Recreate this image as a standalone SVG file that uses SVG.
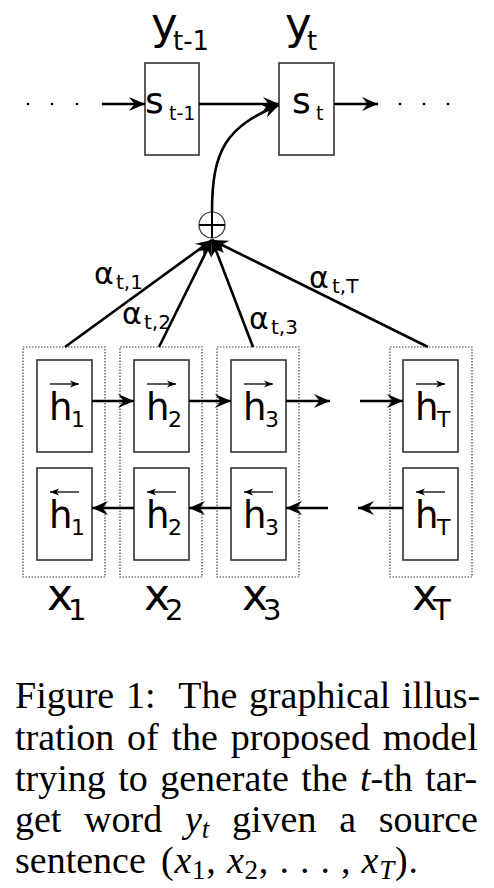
<svg xmlns="http://www.w3.org/2000/svg" width="494" height="888" viewBox="0 0 494 888">
<defs>
<style>
.bx{fill:#fff;stroke:#333;stroke-width:1.6}
.ob{fill:none;stroke:#444;stroke-width:1.2;stroke-dasharray:1.5 1.5}
.ar{fill:none;stroke:#000;stroke-width:2.6;marker-end:url(#ah)}
.sm{fill:none;stroke:#000;stroke-width:1.3;marker-end:url(#sa)}
.sf{font-family:"DejaVu Sans",Verdana,sans-serif;fill:#000}
.big{font-size:37px}
.sub{font-size:22px}
.cap{font-family:"Liberation Serif","Times New Roman",serif;font-size:38px;fill:#000}
.it{font-style:italic}
</style>
<marker id="ah" viewBox="-17 -8 18 16" refX="0" refY="0" markerWidth="18" markerHeight="16" markerUnits="userSpaceOnUse" orient="auto">
<path d="M0,0 L-16,-7 L-10.5,0 L-16,7 Z" fill="#000"/>
</marker>
<marker id="sa" viewBox="-10 -5 11 10" refX="0" refY="0" markerWidth="11" markerHeight="10" markerUnits="userSpaceOnUse" orient="auto">
<path d="M0,0 L-9,-3.5 L-6.5,0 L-9,3.5 Z" fill="#000"/>
</marker>
</defs>
<rect width="494" height="888" fill="#fff"/>

<g id="outputs" class="sf">
<text x="151" y="39" font-size="45">y<tspan x="173" y="50" font-size="26">t-1</tspan></text>
<text x="285" y="39" font-size="45">y<tspan x="307" y="50" font-size="26">t</tspan></text>
</g>

<g id="node-s-prev">
<rect class="bx" x="145" y="63" width="54" height="92"/>
<text class="sf" x="145" y="113" font-size="36">s<tspan x="169" y="120" font-size="19">t-1</tspan></text>
</g>
<g id="node-s-t">
<rect class="bx" x="279" y="63" width="55" height="92"/>
<text class="sf" x="292" y="113" font-size="36">s<tspan x="316" y="120" font-size="19">t</tspan></text>
</g>

<g id="dots">
<circle cx="28" cy="104" r="1.3"/><circle cx="52" cy="104" r="1.3"/><circle cx="77" cy="104" r="1.3"/>
<circle cx="400" cy="104" r="1.3"/><circle cx="424" cy="104" r="1.3"/><circle cx="448" cy="104" r="1.3"/>
</g>

<g id="node-sum">
<circle cx="212" cy="225" r="13" fill="#fff" stroke="#333" stroke-width="1.2"/>
<line x1="199" y1="225" x2="225" y2="225" stroke="#000" stroke-width="2"/>
<line x1="212" y1="212" x2="212" y2="238" stroke="#000" stroke-width="2"/>
</g>

<g id="col-1">
<rect class="ob" x="23" y="347" width="82" height="230"/>
<rect class="bx" x="37" y="360" width="55" height="92"/>
<rect class="bx" x="37" y="468" width="55" height="92"/>
<text class="sf big" x="49" y="420">h<tspan class="sub" x="71" y="427">1</tspan></text>
<text class="sf big" x="49" y="528">h<tspan class="sub" x="71" y="535">1</tspan></text>
<text class="sf" x="47" y="610" font-size="44">x<tspan x="68" y="620" font-size="29">1</tspan></text>
</g>
<g id="col-2">
<rect class="ob" x="120" y="347" width="82" height="230"/>
<rect class="bx" x="134" y="360" width="55" height="92"/>
<rect class="bx" x="134" y="468" width="55" height="92"/>
<text class="sf big" x="146" y="420">h<tspan class="sub" x="168" y="427">2</tspan></text>
<text class="sf big" x="146" y="528">h<tspan class="sub" x="168" y="535">2</tspan></text>
<text class="sf" x="144" y="610" font-size="44">x<tspan x="165" y="620" font-size="29">2</tspan></text>
</g>
<g id="col-3">
<rect class="ob" x="217" y="347" width="82" height="230"/>
<rect class="bx" x="231" y="360" width="55" height="92"/>
<rect class="bx" x="231" y="468" width="55" height="92"/>
<text class="sf big" x="243" y="420">h<tspan class="sub" x="265" y="427">3</tspan></text>
<text class="sf big" x="243" y="528">h<tspan class="sub" x="265" y="535">3</tspan></text>
<text class="sf" x="242" y="610" font-size="44">x<tspan x="263" y="620" font-size="29">3</tspan></text>
</g>
<g id="col-T">
<rect class="ob" x="390" y="347" width="82" height="230"/>
<rect class="bx" x="403" y="360" width="55" height="92"/>
<rect class="bx" x="403" y="468" width="55" height="92"/>
<text class="sf big" x="415" y="420">h<tspan class="sub" x="437" y="427">T</tspan></text>
<text class="sf big" x="415" y="528">h<tspan class="sub" x="437" y="535">T</tspan></text>
<text class="sf" x="412" y="610" font-size="44">x<tspan x="433" y="620" font-size="29">T</tspan></text>
</g>

<g id="vector-marks">
<line class="sm" x1="50" y1="384" x2="79" y2="384"/>
<line class="sm" x1="147" y1="384" x2="176" y2="384"/>
<line class="sm" x1="244" y1="384" x2="273" y2="384"/>
<line class="sm" x1="416" y1="384" x2="445" y2="384"/>
<line class="sm" x1="79" y1="492" x2="50" y2="492"/>
<line class="sm" x1="176" y1="492" x2="147" y2="492"/>
<line class="sm" x1="273" y1="492" x2="244" y2="492"/>
<line class="sm" x1="445" y1="492" x2="416" y2="492"/>
</g>

<g id="weights" class="sf">
<text x="94" y="284" font-size="30">α<tspan x="116" y="289" font-size="20">t,1</tspan></text>
<text x="122" y="324" font-size="30">α<tspan x="144" y="329" font-size="20">t,2</tspan></text>
<text x="249" y="329" font-size="30">α<tspan x="271" y="334" font-size="20">t,3</tspan></text>
<text x="309" y="288" font-size="30">α<tspan x="332" y="293" font-size="20">t,T</tspan></text>
</g>

<g id="connectors">
<line class="ar" x1="102" y1="104" x2="145" y2="104"/>
<line class="ar" x1="199" y1="104" x2="279" y2="104"/>
<line class="ar" x1="334" y1="104" x2="378" y2="104"/>
<path class="ar" d="M212,212 C212,150 226,127 279,105"/>
<line class="ar" x1="65" y1="347" x2="212" y2="240"/>
<line class="ar" x1="159" y1="347" x2="212" y2="240"/>
<line class="ar" x1="253" y1="347" x2="212" y2="240"/>
<line class="ar" x1="428" y1="347" x2="212" y2="240"/>
<line class="ar" x1="92" y1="401" x2="134" y2="401"/>
<line class="ar" x1="189" y1="401" x2="231" y2="401"/>
<line class="ar" x1="286" y1="401" x2="330" y2="401"/>
<line class="ar" x1="360" y1="401" x2="403" y2="401"/>
<line class="ar" x1="134" y1="508" x2="92" y2="508"/>
<line class="ar" x1="231" y1="508" x2="189" y2="508"/>
<line class="ar" x1="328" y1="508" x2="286" y2="508"/>
<line class="ar" x1="403" y1="508" x2="358" y2="508"/>
</g>

<g id="caption" class="cap">
<text x="15" y="708" xml:space="preserve" word-spacing="2.2">Figure 1:  The graphical illus-</text>
<text x="15" y="749.5" word-spacing="3.3">tration of the proposed model</text>
<text x="15" y="791" word-spacing="2.9">trying to generate the <tspan class="it">t</tspan>-th tar-</text>
<text x="15" y="832" xml:space="preserve" word-spacing="13.2">get word <tspan class="it">y</tspan><tspan class="it" font-size="27" dy="6">t</tspan><tspan dy="-6"> given a source</tspan></text>
<text x="15" y="873">sentence</text>
<text x="161" y="873" textLength="257" lengthAdjust="spacing">(<tspan class="it">x</tspan><tspan font-size="27" dy="6">1</tspan><tspan dy="-6">, </tspan><tspan class="it">x</tspan><tspan font-size="27" dy="6">2</tspan><tspan dy="-6">, . . . , </tspan><tspan class="it">x</tspan><tspan class="it" font-size="27" dy="6">T</tspan><tspan dy="-6">).</tspan></text>
</g>
</svg>
